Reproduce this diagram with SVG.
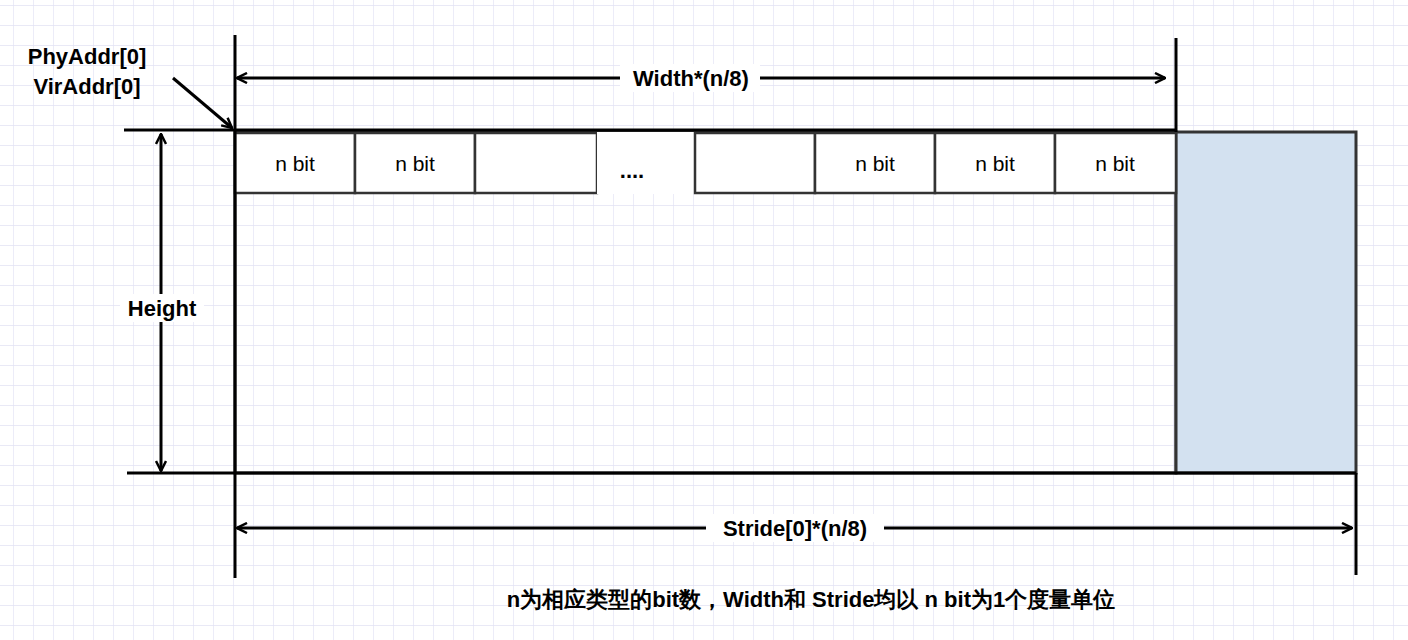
<svg xmlns="http://www.w3.org/2000/svg" width="1408" height="640" viewBox="0 0 1408 640">
<style>
.ln{stroke:#000;stroke-width:3;fill:none}
.cell{fill:#fff;stroke:#333;stroke-width:2.5}
.t{font-family:"Liberation Sans",Arial,sans-serif;font-size:21px;fill:#000}
.b{font-weight:bold;font-size:22px}
</style>
<defs>
<pattern id="g" width="20" height="20" patternUnits="userSpaceOnUse" x="13" y="5">
<path d="M0 0H20M0 0V20" stroke="#e2e2f4" stroke-width="1.3" fill="none"/>
</pattern>
<marker id="a" viewBox="0 0 12 12" refX="11" refY="6" markerWidth="12" markerHeight="12" markerUnits="userSpaceOnUse" orient="auto-start-reverse">
<path d="M1 1L11 6L1 11" fill="none" stroke="#000" stroke-width="2.5"/>
</marker>
</defs>
<rect width="1408" height="640" fill="#fff"/>
<rect width="1408" height="640" fill="url(#g)"/>
<g id="frame">
<rect x="235" y="132" width="941" height="341" fill="none" stroke="#333" stroke-width="3"/>
</g>
<g id="pad"><rect x="1176" y="132" width="180" height="341" fill="#d3e1f0" stroke="#333" stroke-width="3"/></g>
<g id="cells">
<rect class="cell" x="235" y="133" width="120" height="60"/><text class="t" x="295" y="171" text-anchor="middle">n bit</text>
<rect class="cell" x="355" y="133" width="120" height="60"/><text class="t" x="415" y="171" text-anchor="middle">n bit</text>
<rect class="cell" x="475" y="133" width="122" height="60"/>
<rect x="597" y="132" width="98" height="62" fill="#fff"/>
<text class="t b" x="632" y="178" text-anchor="middle">....</text>
<rect class="cell" x="695" y="133" width="120" height="60"/>
<rect class="cell" x="815" y="133" width="120" height="60"/><text class="t" x="875" y="171" text-anchor="middle">n bit</text>
<rect class="cell" x="935" y="133" width="120" height="60"/><text class="t" x="995" y="171" text-anchor="middle">n bit</text>
<rect class="cell" x="1055" y="133" width="121" height="60"/><text class="t" x="1115" y="171" text-anchor="middle">n bit</text>
</g>
<g id="connectors">
<path class="ln" d="M124 130H1176M127 473H1356M235 35V578M1176 38V132M1356 473V575"/>
<path class="ln" d="M237 78H1165" marker-start="url(#a)" marker-end="url(#a)"/>
<path class="ln" d="M237 528H1352" marker-start="url(#a)" marker-end="url(#a)"/>
<path class="ln" d="M161 134V471" marker-start="url(#a)" marker-end="url(#a)"/>
<path class="ln" d="M173 78L232 128" marker-end="url(#a)"/>
</g>
<g id="labels">
<rect x="620" y="64" width="140" height="28" fill="#fff"/>
<text class="t b" x="691" y="86" text-anchor="middle">Width*(n/8)</text>
<rect x="706" y="514" width="178" height="28" fill="#fff"/>
<text class="t b" x="795" y="536" text-anchor="middle">Stride[0]*(n/8)</text>
<rect x="120" y="294" width="84" height="28" fill="#fff"/>
<text class="t b" x="162" y="316" text-anchor="middle">Height</text>
<text class="t b" x="87" y="64" text-anchor="middle">PhyAddr[0]</text>
<text class="t b" x="87" y="94" text-anchor="middle">VirAddr[0]</text>
<text class="t b" x="811" y="607" text-anchor="middle" font-family="'Liberation Sans','Noto Sans CJK SC',sans-serif" font-size="23">n为相应类型的bit数，Width和 Stride均以 n bit为1个度量单位</text>
</g>
</svg>
